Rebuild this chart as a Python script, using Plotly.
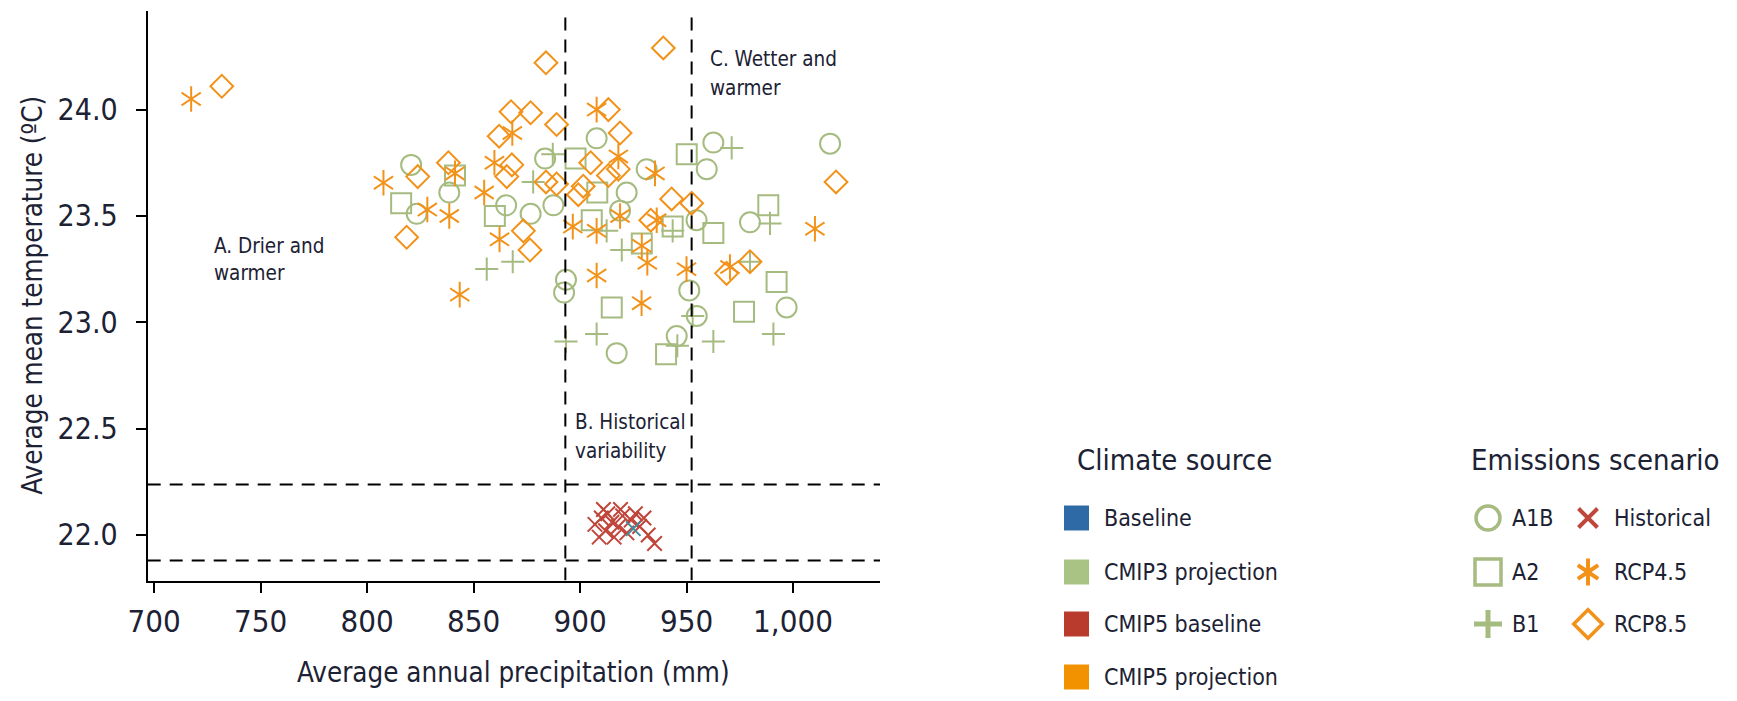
import plotly.graph_objects as go

# ---------------- data ----------------
# CMIP3 projections
a1b_precip = [820.7, 823.3, 838.6, 865.3, 876.8, 887.5, 883.6, 907.8, 962.6, 1017.4, 959.5, 931.3,
              921.9, 918.8, 954.7, 979.8, 893.4, 892.5, 951.3, 954.8, 997.0, 945.4, 917.2]
a1b_temp = [23.74, 23.51, 23.61, 23.55, 23.51, 23.55, 23.77, 23.865, 23.845, 23.84, 23.72, 23.72,
            23.61, 23.525, 23.48, 23.47, 23.20, 23.14, 23.15, 23.03, 23.07, 22.935, 22.855]

a2_precip = [816.0, 841.3, 860.0, 897.9, 908.1, 905.5, 950.1, 943.5, 962.6, 988.4, 929.0, 914.9,
             977.0, 992.3, 940.4]
a2_temp = [23.56, 23.69, 23.50, 23.77, 23.61, 23.48, 23.79, 23.45, 23.42, 23.55, 23.37, 23.07,
           23.05, 23.19, 22.85]

b1_precip = [878.0, 887.2, 856.2, 868.4, 912.5, 943.5, 971.2, 989.2, 919.6, 979.8, 952.9, 990.8,
             962.6, 945.7, 907.8, 893.4]
b1_temp = [23.66, 23.79, 23.25, 23.285, 23.43, 23.43, 23.82, 23.465, 23.34, 23.285, 23.03, 22.945,
           22.91, 22.89, 22.945, 22.91]

# CMIP5 projections
rcp45_precip = [717.4, 807.7, 828.3, 841.3, 838.6, 855.0, 859.8, 868.2, 862.2, 843.5, 896.6, 907.8,
                918.0, 935.2, 918.8, 907.8, 936.0, 929.0, 931.6, 950.0, 970.4, 1010.3, 907.8, 928.9]
rcp45_temp = [24.05, 23.656, 23.53, 23.70, 23.50, 23.61, 23.75, 23.89, 23.39, 23.13, 23.45, 24.00,
              23.78, 23.70, 23.50, 23.43, 23.48, 23.36, 23.28, 23.25, 23.26, 23.44, 23.22, 23.09]

rcp85_precip = [731.8, 884.0, 939.1, 867.6, 876.8, 889.0, 862.0, 913.3, 918.8, 823.8, 838.2, 868.0,
                865.6, 884.0, 889.0, 818.6, 873.4, 876.5, 905.0, 913.3, 918.0, 899.2, 901.5, 943.0,
                952.4, 933.2, 1020.2, 968.8, 979.8]
rcp85_temp = [24.11, 24.22, 24.29, 23.99, 23.985, 23.93, 23.875, 24.00, 23.89, 23.685, 23.75, 23.74,
              23.685, 23.66, 23.65, 23.40, 23.43, 23.34, 23.75, 23.69, 23.72, 23.60, 23.64, 23.58,
              23.56, 23.48, 23.66, 23.23, 23.285]

# CMIP5 baseline (historical runs)
hist_precip = [907, 910, 912, 913, 915, 916, 918, 920, 922, 924, 909, 911, 926, 928, 930, 932, 935, 919]
hist_temp = [22.05, 22.08, 22.02, 22.10, 22.06, 21.99, 22.04, 22.09, 22.01, 22.07, 21.99, 22.12,
             22.10, 22.04, 22.08, 22.00, 21.96, 22.12]

# Observed baseline
base_precip = [925.0]
base_temp = [22.03]

# Historical variability bounds
var_precip_bounds = [893.1, 952.4]
var_temp_bounds = [21.88, 22.237]

x_ticks = [700, 750, 800, 850, 900, 950, 1000]
y_ticks = [22.0, 22.5, 23.0, 23.5, 24.0]

source_labels = ["Baseline", "CMIP3 projection", "CMIP5 baseline", "CMIP5 projection"]
scenario_col1 = ["A1B", "A2", "B1"]
scenario_col2 = ["Historical", "RCP4.5", "RCP8.5"]

# ---------------- style ----------------
W, H = 1737, 701
FONT = "Liberation Sans Narrow, DejaVu Sans Condensed, Arial Narrow, sans-serif"
TXT = "#1c2233"
GREEN = "#a6bb80"
ORANGE = "#f29219"
RED = "#c0463c"
TEAL = "#3f8e9e"
source_colors = ["#2e6aa6", "#a9c384", "#b93b2e", "#f39200"]

X_RANGE = [697.0, 1040.85]
Y_RANGE = [21.786, 24.4636]
PL, PR, PT, PB = 147.7, 880.0, 11.0, 580.5

fig = go.Figure()


def add_markers(x, y, symbol, color, size, lw=2.0, xa="x", ya="y"):
    fig.add_trace(go.Scatter(
        x=x, y=y, mode="markers", xaxis=xa, yaxis=ya,
        marker=dict(symbol=symbol, size=size, color=color, line=dict(color=color, width=lw)),
        hoverinfo="skip", showlegend=False))


add_markers(a1b_precip, a1b_temp, "circle-open", GREEN, 20)
add_markers(a2_precip, a2_temp, "square-open", GREEN, 20)
add_markers(b1_precip, b1_temp, "cross-thin-open", GREEN, 16.5)
add_markers(rcp85_precip, rcp85_temp, "diamond-open", ORANGE, 17.5)
add_markers(rcp45_precip, rcp45_temp, "y-up-open", ORANGE, 16)
add_markers(rcp45_precip, rcp45_temp, "y-down-open", ORANGE, 16)
add_markers(hist_precip, hist_temp, "x-thin-open", RED, 14.5)
add_markers(base_precip, base_temp, "x-thin-open", TEAL, 14.5)

shapes = []
for xv in var_precip_bounds:
    shapes.append(dict(type="line", xref="x", yref="y", x0=xv, x1=xv, y0=Y_RANGE[0], y1=Y_RANGE[1],
                       line=dict(color="black", width=2, dash="13px,9px")))
for yv in var_temp_bounds:
    shapes.append(dict(type="line", xref="x", yref="y", x0=X_RANGE[0], x1=X_RANGE[1], y0=yv, y1=yv,
                       line=dict(color="black", width=2, dash="13px,9px")))

annotations = []


def txt(x, y, s, size, xref="x", yref="y", xanchor="left", angle=0, family=FONT):
    annotations.append(dict(x=x, y=y, xref=xref, yref=yref, text=s, showarrow=False,
                            xanchor=xanchor, yanchor="middle", textangle=angle,
                            font=dict(family=family, size=size, color=TXT)))


# region labels
txt(727.1, 23.359, "A. Drier and", 20.5)
txt(727.1, 23.230, "warmer", 20.5)
txt(896.7, 22.531, "B. Historical", 20.5)
txt(896.7, 22.395, "variability", 20.5)
txt(960.1, 24.236, "C. Wetter and", 20.5)
txt(960.1, 24.100, "warmer", 20.5)

# axis titles (pixel overlay axes)
txt((PL + PR) / 2, 672, "Average annual precipitation (mm)", 27.5, xref="x2", yref="y2", xanchor="center")
txt(32, (PT + PB) / 2, "Average mean temperature (ºC)", 27.5, xref="x2", yref="y2", xanchor="center", angle=-90)

# ---------------- legend (pixel overlay axes) ----------------
row_y = [518, 572, 624, 677]
txt(1075, 460, "Climate source", 29, xref="x2", yref="y2")
for lab, col, ry in zip(source_labels, source_colors, row_y):
    shapes.append(dict(type="rect", xref="x2", yref="y2", x0=1064, x1=1089, y0=ry - 12.5, y1=ry + 12.5,
                       line=dict(width=0), fillcolor=col))
    txt(1102, ry, lab, 23, xref="x2", yref="y2")

txt(1469, 460, "Emissions scenario", 29, xref="x2", yref="y2")
c1x, c2x = 1488, 1588
add_markers([c1x], [row_y[0]], "circle-open", GREEN, 24, 3.5, "x2", "y2")
add_markers([c1x], [row_y[1]], "square-open", GREEN, 26, 3.5, "x2", "y2")
add_markers([c1x], [row_y[2]], "cross-thin-open", GREEN, 20, 5, "x2", "y2")
add_markers([c2x], [row_y[0]], "x-thin-open", RED, 19, 4, "x2", "y2")
add_markers([c2x], [row_y[1]], "y-up-open", ORANGE, 17, 4, "x2", "y2")
add_markers([c2x], [row_y[1]], "y-down-open", ORANGE, 17, 4, "x2", "y2")
add_markers([c2x], [row_y[2]], "diamond-open", ORANGE, 22, 3.5, "x2", "y2")
for lab, ry in zip(scenario_col1, row_y):
    txt(1510, ry, lab, 23, xref="x2", yref="y2")
for lab, ry in zip(scenario_col2, row_y):
    txt(1612, ry, lab, 23, xref="x2", yref="y2")

fig.update_layout(
    width=W, height=H,
    margin=dict(l=0, r=0, t=0, b=0, pad=0),
    paper_bgcolor="white", plot_bgcolor="rgba(0,0,0,0)",
    showlegend=False,
    shapes=shapes, annotations=annotations,
    xaxis=dict(domain=[PL / W, PR / W], range=X_RANGE, tickvals=x_ticks, tickformat=",d",
               showline=True, linecolor="black", linewidth=2, ticks="outside", ticklen=10,
               tickwidth=2, tickcolor="black", showgrid=False, zeroline=False, automargin=False,
               tickfont=dict(family=FONT, size=31, color=TXT), ticklabelstandoff=2, anchor="y"),
    yaxis=dict(domain=[1 - PB / H, 1 - PT / H], range=Y_RANGE, tickvals=y_ticks, tickformat=".1f",
               showline=True, linecolor="black", linewidth=2, ticks="outside", ticklen=10,
               tickwidth=2, tickcolor="black", showgrid=False, zeroline=False, automargin=False,
               tickfont=dict(family=FONT, size=30, color=TXT), ticklabelstandoff=12, anchor="x"),
    xaxis2=dict(domain=[0, 1], range=[0, W], visible=False, anchor="y2", fixedrange=True),
    yaxis2=dict(domain=[0, 1], range=[H, 0], visible=False, anchor="x2", fixedrange=True),
)

fig.write_html("out.html", config={"displayModeBar": False},
               post_script="document.body.style.margin='0';")
